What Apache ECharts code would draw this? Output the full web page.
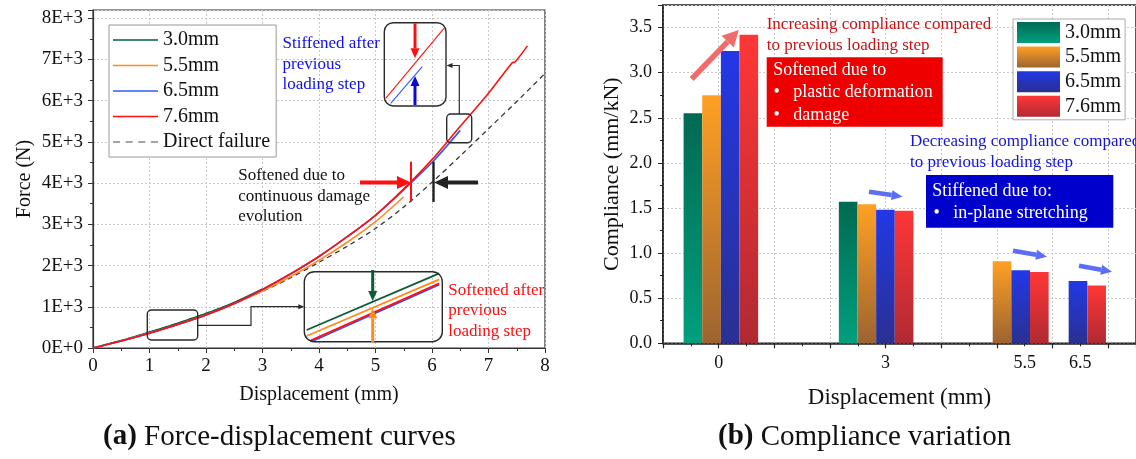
<!DOCTYPE html>
<html>
<head>
<meta charset="utf-8">
<script src="https://cdn.jsdelivr.net/npm/echarts@6/dist/echarts.min.js"></script>
<style>
  body { margin: 0; background: #fff; }
</style>
</head>
<body>
<div id="box" style="width:1136px;height:459px;"></div>
<script>
// ---- (a) force-displacement curves, force in N ----
const disp30 = [0, 0.5, 1, 1.5, 2, 2.5, 3];
const force30 = [0, 180, 385, 600, 835, 1105, 1430];
const disp55 = [0, 0.5, 1, 1.5, 2, 2.5, 3, 3.5, 4, 4.5, 5, 5.5];
const force55 = [0, 172, 362, 572, 805, 1075, 1385, 1735, 2125, 2565, 3065, 3670];
const disp65 = [0, 0.5, 1, 1.5, 2, 2.5, 3, 3.5, 4, 4.5, 5, 5.5, 6, 6.5];
const force65 = [0, 170, 360, 570, 802, 1080, 1420, 1800, 2220, 2700, 3220, 3840, 4500, 5280];
const disp76 = [0, 0.5, 1, 1.5, 2, 2.5, 3, 3.5, 4, 4.5, 5, 5.5, 6, 6.5, 7, 7.42, 7.47, 7.69];
const force76 = [0, 170, 360, 570, 802, 1080, 1420, 1800, 2220, 2700, 3220, 3860, 4570, 5380, 6180, 6920, 6940, 7330];
const dispDirect = [0, 0.5, 1, 1.5, 2, 2.5, 3, 3.5, 4, 4.5, 5, 5.5, 6, 6.5, 7, 7.5, 8];
const forceDirect = [0, 180, 380, 600, 840, 1095, 1375, 1705, 2080, 2470, 2900, 3420, 4020, 4660, 5320, 5980, 6660];

// magnified views (inset units 0..1)
const insetLow30 = [[0.017, 0.167], [0.978, 0.977]];
const insetLow55 = [[0.017, 0.081], [0.978, 0.891]];
const insetLow65 = [[0.05, 0.0], [0.978, 0.815]];
const insetLow76 = [[0.041, 0.012], [0.978, 0.834]];
const insetTop76 = [[0.023, 0.092], [0.968, 0.933]];
const insetTop65 = [[0.104, 0.032], [0.616, 0.472]];

// ---- (b) compliance, mm/kN ----
const stepLabels = [0, 3, 5.5, 6.5];
const groupCenters = [0.04, 2.83, 5.26, 6.29]; // where each bar group sits on the axis
const comp30 = [2.55, 1.57, null, null];
const comp55 = [2.75, 1.54, 0.91, null];
const comp65 = [3.24, 1.48, 0.81, 0.69];
const comp76 = [3.42, 1.47, 0.79, 0.64];

const SERIF = '"Liberation Serif", "Times New Roman", serif';
const names = ['3.0mm', '5.5mm', '6.5mm', '7.6mm'];
const lineColors = ['#0a5c36', '#ff8b1f', '#2f5bff', '#ff1010'];
const barTop = ['#006a52', '#ffa024', '#2238e6', '#ff3636'];
const barBottom = ['#00a07e', '#9c6430', '#2a3092', '#b02a32'];
const barW = 0.335;
const solidIcon = 'path://M0,0H45V1.6H0Z';
const dashIcon = 'path://M0,0H7V1.6H0Z M12.5,0H19.5V1.6H12.5Z M25,0H32V1.6H25Z M37.5,0H44.5V1.6H37.5Z';

const chartDom = document.getElementById('box');
const myChart = echarts.init(chartDom);

const zip = (xs, ys) => xs.map((x, i) => [x, ys[i]]);
const grad = i => new echarts.graphic.LinearGradient(0, 0, 0, 1, [
  { offset: 0, color: barTop[i] }, { offset: 1, color: barBottom[i] }
]);

function arrow(x1, y1, x2, y2, color, w, hl, hw) {
  const a = Math.atan2(y2 - y1, x2 - x1);
  const bx = x2 - hl * Math.cos(a), by = y2 - hl * Math.sin(a);
  const px = -Math.sin(a) * hw / 2, py = Math.cos(a) * hw / 2;
  return [
    { type: 'line', z: 100, silent: true, shape: { x1: x1, y1: y1, x2: bx, y2: by }, style: { stroke: color, lineWidth: w } },
    { type: 'polygon', z: 100, silent: true, shape: { points: [[x2, y2], [bx + px, by + py], [bx - px, by - py]] }, style: { fill: color } }
  ];
}
function seg(x1, y1, x2, y2, color, w) {
  return { type: 'line', z: 100, silent: true, shape: { x1: x1, y1: y1, x2: x2, y2: y2 }, style: { stroke: color, lineWidth: w } };
}
function box(x, y, w, h, r) {
  return { type: 'rect', z: 99, silent: true, shape: { x: x, y: y, width: w, height: h, r: r }, style: { fill: 'none', stroke: '#2a2a2a', lineWidth: 1.4 } };
}
function txt(x, yc, text, color, size, lh) {
  return { type: 'text', z: 101, silent: true, x: x, y: yc - lh / 2,
    style: { text: text, fill: color, font: size + 'px ' + SERIF, lineHeight: lh, verticalAlign: 'top' } };
}

const lineSeries = [
  { name: 'Direct failure', data: zip(dispDirect, forceDirect), color: '#333', type: [5, 4], width: 1.3 },
  { name: names[0], data: zip(disp30, force30), color: lineColors[0] },
  { name: names[1], data: zip(disp55, force55), color: lineColors[1] },
  { name: names[2], data: zip(disp65, force65), color: lineColors[2] },
  { name: names[3], data: zip(disp76, force76), color: lineColors[3] }
].map(s => ({
  name: s.name, type: 'line', xAxisIndex: 0, yAxisIndex: 0, data: s.data,
  symbol: 'none', smooth: 0.3, color: s.color,
  lineStyle: { color: s.color, width: s.width || 1.6, type: s.type || 'solid' }
}));

const insetSeries = [
  [insetLow30, 0, 2, 1.8], [insetLow55, 1, 2, 1.8], [insetLow65, 2, 2, 1.8], [insetLow76, 3, 2, 1.8],
  [insetTop65, 2, 3, 1.1], [insetTop76, 3, 3, 1.1]
].map(([d, c, ax, w]) => ({
  type: 'line', xAxisIndex: ax, yAxisIndex: ax, data: d, symbol: 'none', silent: true,
  lineStyle: { color: lineColors[c], width: w }, color: lineColors[c]
}));

const barSeries = [comp30, comp55, comp65, comp76].map((vals, s) => ({
  name: names[s] + ' (b)', type: 'custom', xAxisIndex: 1, yAxisIndex: 1,
  itemStyle: { color: grad(s) },
  encode: { x: 0, y: 1 },
  data: vals.map((v, g) => v == null ? null : [groupCenters[g] + (s - 1.5) * barW, v]).filter(d => d),
  renderItem: function (params, api) {
    const x = api.value(0), v = api.value(1);
    const lt = api.coord([x - barW / 2, v]);
    const rb = api.coord([x + barW / 2, 0]);
    return { type: 'rect', shape: { x: lt[0], y: lt[1], width: rb[0] - lt[0], height: rb[1] - lt[1] }, style: { fill: grad(s) } };
  }
}));

const tickFont = { fontFamily: SERIF, color: '#111' };
const dotted = { show: true, lineStyle: { color: '#c8c8c8', type: [2, 2], width: 1 } };

const graphics = [].concat(
  // (a) annotations
  box(147.3, 310, 50.4, 30, 4),
  box(304.3, 271.7, 138, 70, 10),
  box(446.7, 114, 25, 28.7, 4),
  box(384.3, 22.7, 61.7, 83.3, 9),
  { type: 'polyline', z: 100, silent: true, shape: { points: [[197.7, 325.3], [251, 325.3], [251, 306.7], [299, 306.7]] }, style: { stroke: '#2a2a2a', lineWidth: 1.2, fill: 'none' } },
  arrow(296, 306.7, 304.3, 306.7, '#2a2a2a', 1.2, 6, 5),
  { type: 'polyline', z: 100, silent: true, shape: { points: [[459.3, 114], [459.3, 65.5], [452, 65.5]] }, style: { stroke: '#2a2a2a', lineWidth: 1.2, fill: 'none' } },
  arrow(454, 65.5, 446.5, 65.5, '#2a2a2a', 1.2, 6, 5),
  arrow(372.7, 270, 372.7, 301, lineColors[0], 3, 10, 9),
  arrow(372.7, 342.3, 372.7, 308.3, lineColors[1], 3, 10, 9),
  arrow(415, 23.3, 415, 58.3, '#ff1010', 3, 10, 9),
  arrow(415, 105, 415, 76, '#0a0ad8', 3, 10, 9),
  arrow(360, 182.5, 411, 182.5, '#ff1010', 4, 14, 13),
  seg(411, 161.7, 411, 201.7, '#ff1010', 2),
  arrow(478, 182.5, 434, 182.5, '#222', 4, 14, 13),
  seg(433.5, 161.7, 433.5, 202, '#222', 2.4),
  txt(282.5, 44, 'Stiffened after\nprevious\nloading step', '#1010ee', 17, 20.5),
  txt(238.3, 175.7, 'Softened due to\ncontinuous damage\nevolution', '#111', 17, 20.5),
  txt(448.3, 290.7, 'Softened after\nprevious\nloading step', '#ff1010', 17, 20.2),
  // (b) annotations
  arrow(691.7, 79, 738.8, 30, '#f26b6b', 5.5, 16, 17),
  arrow(869, 191.7, 902.6, 196.7, '#5b6ef5', 4.5, 11, 10),
  arrow(1013, 250.7, 1047, 256.7, '#5b6ef5', 4.5, 11, 10),
  arrow(1079, 265.7, 1112, 271.7, '#5b6ef5', 4.5, 11, 10),
  txt(766.7, 25, 'Increasing compliance compared\nto previous loading step', '#c81414', 17, 21),
  { type: 'rect', z: 99, silent: true, shape: { x: 766.7, y: 57.3, width: 176, height: 69.4 }, style: { fill: '#ee0000' } },
  txt(773.3, 70.7, 'Softened due to', '#fff', 18, 21),
  txt(773.5, 92.7, '•', '#fff', 18, 21),
  txt(793.3, 92.7, 'plastic deformation', '#fff', 18, 21),
  txt(773.5, 115, '•', '#fff', 18, 21),
  txt(793.3, 115, 'damage', '#fff', 18, 21),
  txt(910, 141.7, 'Decreasing compliance compared\nto previous loading step', '#1414dd', 17, 20.6),
  { type: 'rect', z: 99, silent: true, shape: { x: 926, y: 175, width: 187.3, height: 52.7 }, style: { fill: '#0000cc' } },
  txt(932.3, 191.7, 'Stiffened due to:', '#fff', 18, 21),
  txt(933.5, 213.3, '•', '#fff', 18, 21),
  txt(953.3, 213.3, 'in-plane stretching', '#fff', 18, 21),
  // captions
  { type: 'text', z: 101, x: 103, y: 437, style: { text: '{b|(a)} Force-displacement curves', font: '29px ' + SERIF, fill: '#111', verticalAlign: 'middle',
    rich: { b: { fontWeight: 'bold', fontSize: 29, fontFamily: SERIF, fill: '#111' } } } },
  { type: 'text', z: 101, x: 718, y: 437, style: { text: '{b|(b)} Compliance variation', font: '29px ' + SERIF, fill: '#111', verticalAlign: 'middle',
    rich: { b: { fontWeight: 'bold', fontSize: 29, fontFamily: SERIF, fill: '#111' } } } }
);

var option = {
  animation: false,
  backgroundColor: '#fff',
  grid: [
    { left: 93, top: 10, width: 452, height: 338, show: true, borderColor: '#333', borderWidth: 1.2, backgroundColor: 'transparent' },
    { left: 663, top: 5, width: 482, height: 338.3, show: true, borderColor: '#222', borderWidth: 1.5, backgroundColor: 'transparent' },
    { left: 304.3, top: 271.7, width: 138, height: 70 },
    { left: 384.3, top: 22.7, width: 61.7, height: 83.3 }
  ],
  legend: [
    {
      data: names.map(n => ({ name: n, icon: solidIcon }))
        .concat([{ name: 'Direct failure', icon: dashIcon, itemStyle: { color: '#888' } }]),
      orient: 'vertical', left: 109, top: 25,
      backgroundColor: '#fff', borderColor: '#999', borderWidth: 1, padding: [4, 6, 4, 4],
      itemWidth: 45, itemHeight: 14, itemGap: 3.5, selectedMode: false,
      textStyle: { fontFamily: SERIF, fontSize: 20, color: '#111', lineHeight: 22 }
    },
    {
      data: names.map(n => n + ' (b)'), orient: 'vertical', left: 1013, top: 19,
      backgroundColor: '#fff', borderColor: '#aaa', borderWidth: 1, padding: [3, 4, 3, 4],
      itemWidth: 43, itemHeight: 21, itemGap: 3.6, icon: 'rect', selectedMode: false,
      formatter: n => n.replace(' (b)', ''),
      textStyle: { fontFamily: SERIF, fontSize: 20, color: '#111' }
    }
  ],
  xAxis: [
    {
      gridIndex: 0, type: 'value', min: 0, max: 8, interval: 1,
      axisLine: { show: true, onZero: false, lineStyle: { color: '#333', width: 1.2 } },
      axisTick: { show: true, length: 5, lineStyle: { color: '#333' } },
      minorTick: { show: true, splitNumber: 2, length: 3, lineStyle: { color: '#333' } },
      splitLine: dotted,
      axisLabel: Object.assign({ fontSize: 19, margin: 9 }, tickFont),
      name: 'Displacement (mm)', nameLocation: 'middle', nameGap: 37,
      nameTextStyle: { fontFamily: SERIF, fontSize: 20, color: '#111' }
    },
    {
      gridIndex: 1, type: 'value', min: -1, max: 7.5, interval: 1,
      axisLine: { show: true, onZero: false, lineStyle: { color: '#222', width: 1.5 } },
      axisTick: { show: true, length: 5, lineStyle: { color: '#222', width: 1.2 } },
      minorTick: { show: true, splitNumber: 2, length: 3, lineStyle: { color: '#222' } },
      splitLine: dotted,
      axisLabel: Object.assign({ fontSize: 18, margin: 11, customValues: stepLabels, formatter: v => String(v) }, tickFont),
      name: 'Displacement (mm)', nameLocation: 'middle', nameGap: 43,
      nameTextStyle: { fontFamily: SERIF, fontSize: 23, color: '#111' }
    },
    { gridIndex: 2, type: 'value', min: 0, max: 1, show: false },
    { gridIndex: 3, type: 'value', min: 0, max: 1, show: false }
  ],
  yAxis: [
    {
      gridIndex: 0, type: 'value', min: 0, max: 8200, interval: 1000,
      axisLine: { show: true, onZero: false, lineStyle: { color: '#333', width: 1.2 } },
      axisTick: { show: true, length: 5, lineStyle: { color: '#333' } },
      minorTick: { show: true, splitNumber: 2, length: 3, lineStyle: { color: '#333' } },
      splitLine: dotted,
      axisLabel: Object.assign({ fontSize: 19, margin: 10, showMaxLabel: false,
        formatter: v => v === 0 ? '0E+0' : (v / 1000) + 'E+3' }, tickFont),
      name: 'Force (N)', nameLocation: 'middle', nameGap: 58,
      nameTextStyle: { fontFamily: SERIF, fontSize: 20, color: '#111' }
    },
    {
      gridIndex: 1, type: 'value', min: 0, max: 3.75, interval: 0.5,
      axisLine: { show: true, onZero: false, lineStyle: { color: '#222', width: 1.5 } },
      axisTick: { show: true, length: 5, lineStyle: { color: '#222' } },
      minorTick: { show: true, splitNumber: 2, length: 3, lineStyle: { color: '#222' } },
      splitLine: dotted,
      axisLabel: Object.assign({ fontSize: 18, margin: 11, showMaxLabel: false,
        formatter: v => v.toFixed(1) }, tickFont),
      name: 'Compliance (mm/kN)', nameLocation: 'middle', nameGap: 40,
      nameTextStyle: { fontFamily: SERIF, fontSize: 22, color: '#111' }
    },
    { gridIndex: 2, type: 'value', min: 0, max: 1, show: false },
    { gridIndex: 3, type: 'value', min: 0, max: 1, show: false }
  ],
  series: lineSeries.concat(insetSeries, barSeries),
  graphic: graphics
};
option && myChart.setOption(option);
</script>
</body>
</html>
